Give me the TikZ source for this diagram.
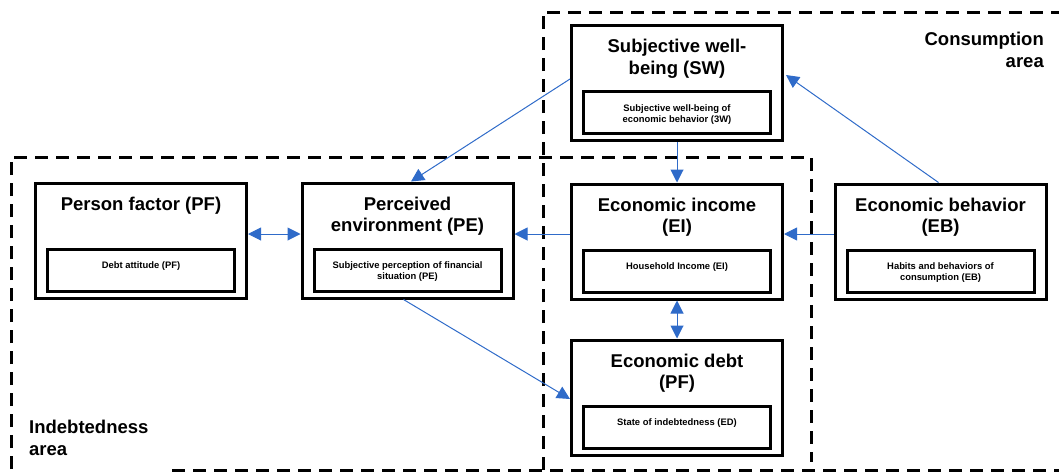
\documentclass[tikz,border=0pt]{standalone}
\usepackage{fontspec}
\setmainfont{Liberation Sans}
\usetikzlibrary{arrows.meta,calc}
\definecolor{linkblue}{RGB}{47,107,201}

% One factor: outer box, heading, inner detail box and its text
\newcommand\FactorBox[5]{%
  \node[fbox] (#1) at (#2,#3) {};
  \node[dbox] (#1d) at (#2,#3+29.5) {};
  \node[ftitle] (#1t) at (#2,#3-44) {#4};
  \node[dtext] (#1x) at (#2,#3+21) {#5};
}

\begin{document}
\begin{tikzpicture}[x=1pt,y=-1pt,
  fbox/.style={draw=black, fill=white, line width=3pt, minimum width=211pt, minimum height=115pt, inner sep=0pt},
  dbox/.style={draw=black, fill=white, line width=3pt, minimum width=187pt, minimum height=42pt, inner sep=0pt},
  ftitle/.style={anchor=north, inner sep=0pt, align=center, font=\fontsize{18.5}{21.5}\selectfont\bfseries},
  dtext/.style={anchor=north, inner sep=0pt, align=center, font=\fontsize{9.4}{11}\selectfont\bfseries},
  ztext/.style={inner sep=0pt, font=\fontsize{18.5}{21.5}\selectfont\bfseries},
  zline/.style={draw=black, line width=3pt, dash pattern=on 13pt off 8pt},
  arr/.style={draw=linkblue, line width=1pt, -{Triangle[length=13pt,width=13pt]}},
  darr/.style={draw=linkblue, line width=1pt, {Triangle[length=13pt,width=13pt]}-{Triangle[length=13pt,width=13pt]}}
]
\useasboundingbox (0,0) rectangle (1059,474);

% area borders
\draw[zline] (543,470) -- (543,12) -- (1075,12);
\draw[zline] (172,470) -- (1075,470);
\draw[zline] (11,490) -- (11,157) -- (811,157) -- (811,462);

\node[ztext, anchor=north east, align=right] (conslabel) at (1044,32) {Consumption\\area};
\node[ztext, anchor=north west, align=left] (debtlabel) at (29,420) {Indebtedness\\area};

% factors
\FactorBox{sw}{677}{83}{Subjective well-\\being (SW)}{Subjective well-being of\\economic behavior (3W)}
\FactorBox{pf}{141}{240.5}{Person factor (PF)}{Debt attitude (PF)}
\FactorBox{pe}{407.5}{240.5}{Perceived\\environment (PE)}{Subjective perception of financial\\situation (PE)}
\FactorBox{ei}{677}{241.5}{Economic income\\(EI)}{Household Income (EI)}
\FactorBox{eb}{940.5}{241.5}{Economic behavior\\(EB)}{Habits and behaviors of\\consumption (EB)}
\FactorBox{ed}{677}{397.5}{Economic debt\\(PF)}{State of indebtedness (ED)}

% relations
\draw[arr] ($(sw.west)+(0,-4)$) -- ($(pe.north)+(3.5,0)$);
\draw[arr] (sw.south) -- (ei.north);
\draw[arr] ($(eb.north)+(-2,0)$) -- ($(sw.east)+(2,-8)$);
\draw[arr] ($(eb.west)+(0,-7.5)$) -- ($(ei.east)+(0,-7.5)$);
\draw[arr] ($(ei.west)+(0,-7.5)$) -- ($(pe.east)+(0,-6.5)$);
\draw[darr] ($(pf.east)+(0,-6.5)$) -- ($(pe.west)+(0,-6.5)$);
\draw[darr] (ei.south) -- (ed.north);
\draw[arr] ($(pe.south)+(-4,0)$) -- ($(ed.west)+(0,1.5)$);
\end{tikzpicture}
\end{document}
